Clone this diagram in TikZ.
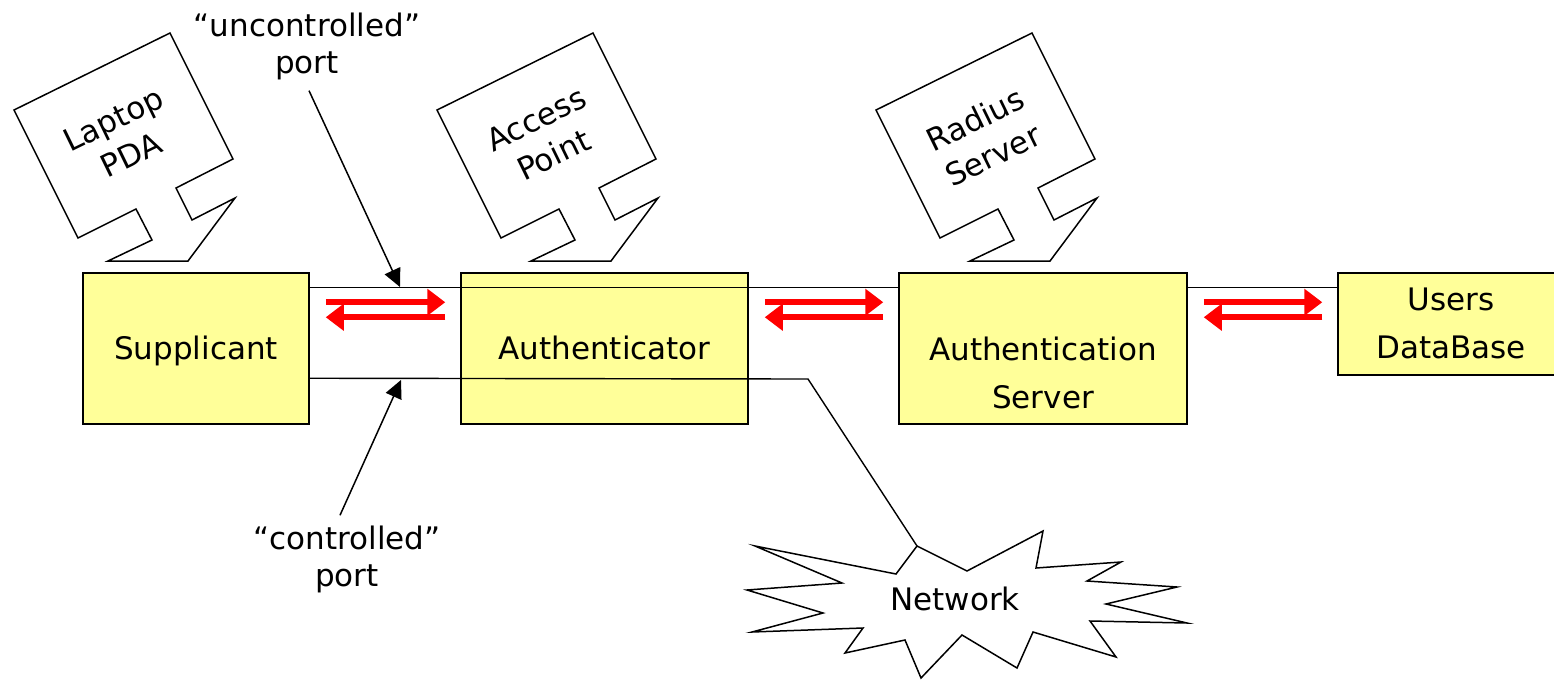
\documentclass[tikz,border=0pt]{standalone}
\usepackage{fontspec}
\setmainfont{DejaVu Sans}
\usepackage{xcolor}
\usetikzlibrary{arrows.meta}

\definecolor{boxyellow}{HTML}{FFFF99}
\tikzset{
  box/.style={draw, line width=1.5pt, fill=boxyellow, inner sep=0pt},
  boxtext/.style={font=\fontsize{31}{48}\selectfont, align=center, anchor=base, inner sep=0pt},
  calltext/.style={font=\fontsize{31}{40}\selectfont, align=center, rotate=26, inner sep=0pt},
  porttext/.style={font=\fontsize{31}{37}\selectfont, align=center, anchor=base, inner sep=4pt},
  callout/.style={draw, line width=1.5pt, fill=white, line join=miter},
  wire/.style={line width=1.4pt},
  redarrow/.style={red, line width=6pt, -{Triangle[length=18pt,width=26pt]}},
  pointer/.style={line width=1.5pt, -{Triangle[length=18pt,width=17pt]}},
}

\begin{document}
\begin{tikzpicture}[x=1pt, y=-1pt]
\useasboundingbox (0,0) rectangle (1554,680);

% speech-bubble labels over the boxes
\foreach \dx/\nm/\txt in {0/laptop/{Laptop\\PDA}, 423/ap/{Access\\Point}, 862/radius/{Radius\\Server}}{
  \begin{scope}[shift={(\dx,0)}]
    \draw[callout] (170,33) -- (233,159) -- (176,188) -- (192,220) -- (235,198) -- (188,261)
      -- (108,261) -- (152,240) -- (136,209) -- (78,238) -- (14,110) -- cycle;
    \node[calltext] (\nm) at (122,137) {\txt};
  \end{scope}
}

% the four boxes (base = last line)
\node[box, minimum width=226pt, minimum height=151pt] (sup) at (196,348.5) {};
\node[box, minimum width=287pt, minimum height=151pt] (auth) at (604.5,348.5) {};
\node[box, minimum width=288pt, minimum height=151pt] (srv) at (1043,348.5) {};
\node[box, minimum width=226pt, minimum height=102pt] (udb) at (1451,324) {};
\node[boxtext] (suptxt) at (196,359) {Supplicant};
\node[boxtext] (authtxt) at (604.5,359) {Authenticator};
\node[boxtext] (srvtxt) at (1043,408) {Authentication\\Server};
\node[boxtext] (udbtxt) at (1451,358) {Users\\DataBase};

% network cloud
\coordinate (nettop) at (917,546);
\draw[callout] (nettop) -- (967,571) -- (1043,531) -- (1036,568) -- (1121,562) -- (1087,581)
  -- (1177,587) -- (1106,604) -- (1187,623) -- (1090,621) -- (1116,657) -- (1033,632)
  -- (1017,668) -- (962,635) -- (921,678) -- (905,640) -- (845,653) -- (863,628)
  -- (752,632) -- (823,613) -- (747,590) -- (842,583) -- (755,546) -- (896,574) -- cycle;
\node[boxtext] (net) at (955,610) {Network};

% ports
\draw[wire] ([shift={(0,15)}]sup.north east) -- ([shift={(0,15)}]srv.north west);
\draw[wire] ([shift={(0,15)}]srv.north east) -- ([shift={(0,15)}]udb.north west);
\coordinate (bend) at (808,379);
\draw[wire] ([shift={(0,106)}]sup.north east) -- (bend) -- (nettop);

\foreach \a/\b in {sup/auth, auth/srv, srv/udb}{
  \draw[redarrow] ([shift={(16,30)}]\a.north east) -- ([shift={(-15,30)}]\b.north west);
  \draw[redarrow] ([shift={(-15,45)}]\b.north west) -- ([shift={(16,45)}]\a.north east);
}

\node[porttext] (uport) at (307,73) {“uncontrolled”\\port};
\node[porttext] (cport) at (347,586) {“controlled”\\port};
\coordinate (utip) at (400,287);
\coordinate (ctip) at (401,380);
\draw[pointer] ([shift={(2,7)}]uport.south) -- (utip);
\draw[pointer] ([shift={(-7,-6)}]cport.north) -- (ctip);
\end{tikzpicture}
\end{document}
